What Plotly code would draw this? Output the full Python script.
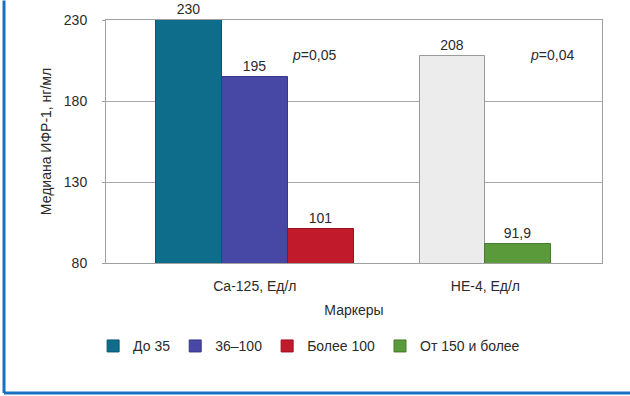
import plotly.graph_objects as go

# Marker categories and median IGF-1 values per marker level
categories = ["Ca-125, Ед/л", "HE-4, Ед/л"]
series_names = ["До 35", "36–100", "Более 100", "До 150", "От 150 и более"]
series_category = [0, 0, 0, 1, 1]
series_values = [230, 195, 101, 208, 91.9]
series_colors = ["#0f6d8c", "#4747a6", "#c11a2b", "#ececec", "#5a9a3a"]
series_lines = ["#0b5670", "#38388a", "#9a1020", "#9a9a9a", "#467a2c"]
series_in_legend = [True, True, True, False, True]
p_labels = ["<i>p</i>=0,05", "<i>p</i>=0,04"]
y_ticks = [80, 130, 180, 230]

FONT = "Liberation Sans, Arial, sans-serif"
TXT = "#2b2b2b"
FS = 14

# slot positions: bars of a category sit side by side, one empty slot between groups
positions = []
group_slots = {}
next_slot = 0
for ci in range(len(categories)):
    members = [i for i, c in enumerate(series_category) if c == ci]
    group_slots[ci] = []
    for i in members:
        positions.append((i, next_slot))
        group_slots[ci].append(next_slot)
        next_slot += 1
    next_slot += 1
pos_of = dict(positions)

fig = go.Figure()
for i, name in enumerate(series_names):
    v = series_values[i]
    fig.add_trace(go.Bar(
        x=[pos_of[i]], y=[v], width=1.0, name=name,
        marker=dict(color=series_colors[i], line=dict(color=series_lines[i], width=1)),
        text=[f"{v:g}".replace(".", ",")], textposition="outside",
        textfont=dict(family=FONT, size=FS, color=TXT),
        cliponaxis=False, showlegend=series_in_legend[i],
    ))

centers = [sum(s) / len(s) for s in group_slots.values()]

fig.update_layout(
    width=630, height=396,
    margin=dict(l=106, r=28, t=18, b=133),
    paper_bgcolor="white", plot_bgcolor="white",
    font=dict(family=FONT, size=FS, color=TXT),
    bargap=0, showlegend=True,
    legend=dict(orientation="h", x=-0.026, xanchor="left", y=-0.343, yanchor="middle",
                font=dict(size=FS, color=TXT), itemwidth=30, traceorder="normal"),
    xaxis=dict(range=[-1.26, 6.27], tickvals=centers, ticktext=categories,
               showgrid=False, zeroline=False, showline=True, mirror=True,
               linecolor="#a0a0a0", linewidth=1, ticks="", ticklabelstandoff=10,
               title=dict(text="Маркеры", standoff=12, font=dict(size=FS))),
    yaxis=dict(range=[80, 230], tickvals=y_ticks, showgrid=True, gridcolor="#a8a8a8",
               zeroline=False, showline=True, mirror=True, linecolor="#a0a0a0",
               ticks="outside", ticklen=3, tickcolor="#a0a0a0", ticklabelstandoff=12,
               title=dict(text="Медиана ИФР-1, нг/мл", standoff=8, font=dict(size=FS))),
)

for txt, xp in zip(p_labels, [0.419, 0.899]):
    fig.add_annotation(text=txt, x=xp, y=0.857, xref="paper", yref="paper",
                       xanchor="center", yanchor="middle",
                       showarrow=False, font=dict(size=FS, color=TXT))

# blue frame along the left and bottom edges
fig.add_shape(type="line", xref="paper", yref="paper", x0=-0.2056, x1=-0.2056,
              y0=-0.5347, y1=1.08, line=dict(color="#1b6fc2", width=3))
fig.add_shape(type="line", xref="paper", yref="paper", x0=-0.2056, x1=1.06,
              y0=-0.5347, y1=-0.5347, line=dict(color="#1b6fc2", width=3))

fig.write_html("out.html")
